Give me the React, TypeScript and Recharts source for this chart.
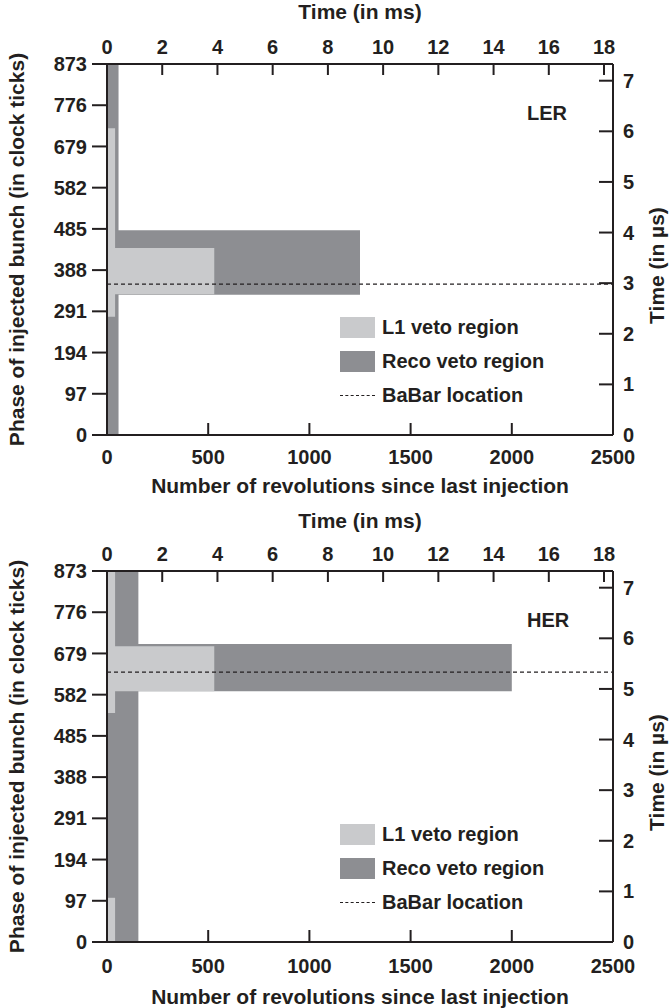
import React from 'react';
import { ComposedChart, XAxis, YAxis, ReferenceArea, Line, Legend, Label } from 'recharts';

// axis ticks
const REV_TICKS = [0, 500, 1000, 1500, 2000, 2500];
const MS_TICKS = [0, 2, 4, 6, 8, 10, 12, 14, 16, 18];
const PHASE_TICKS = [0, 97, 194, 291, 388, 485, 582, 679, 776, 873];
const US_TICKS = [0, 1, 2, 3, 4, 5, 6, 7];

const REV_MAX = 2500;
const PHASE_MAX = 873;
const REV_PERIOD_MS = 0.00733; // one turn of the ring
const MS_MAX = REV_MAX * REV_PERIOD_MS;
const US_MAX = 7.33;

// veto regions, in revolutions (x) and clock ticks (y)
const LER_RECO = [
  { x1: 0, x2: 57, y1: 0, y2: 873 },
  { x1: 0, x2: 1250, y1: 330, y2: 482 },
];
const LER_L1 = [
  { x1: 0, x2: 40, y1: 278, y2: 722 },
  { x1: 0, x2: 530, y1: 331, y2: 440 },
];
const LER_BABAR = 355;

const HER_RECO = [
  { x1: 0, x2: 155, y1: 0, y2: 873 },
  { x1: 0, x2: 2000, y1: 590, y2: 701 },
];
const HER_L1 = [
  { x1: 0, x2: 40, y1: 539, y2: 873 },
  { x1: 0, x2: 40, y1: 0, y2: 104 },
  { x1: 0, x2: 530, y1: 590, y2: 696 },
];
const HER_BABAR = 635;

const LEGEND = [
  { label: 'L1 veto region', kind: 'l1' },
  { label: 'Reco veto region', kind: 'reco' },
  { label: 'BaBar location', kind: 'babar' },
];

const FONT = '"Liberation Sans", Arial, Helvetica, sans-serif';
const INK = '#231f20';
const L1_COLOR = '#c9cacc';
const RECO_COLOR = '#8d8e92';

const tickStyle = { fill: INK, fontSize: 20, fontWeight: 700, fontFamily: FONT };
const titleStyle = { fill: INK, fontSize: 21, fontWeight: 700, fontFamily: FONT };

// rotated axis title on the axis band; shift moves it down from the centre
function sideTitle(value: string, fromEdge: number, side: 'left' | 'right', shift = 0) {
  return (props: any) => {
    const vb = props.viewBox || {};
    const cx = side === 'left' ? vb.x + fromEdge : vb.x + vb.width - fromEdge;
    const cy = vb.y + vb.height / 2 + shift;
    return (
      <text
        x={cx}
        y={cy}
        transform={`rotate(-90, ${cx}, ${cy})`}
        textAnchor="middle"
        dominantBaseline="central"
        style={titleStyle}
      >
        {value}
      </text>
    );
  };
}

function VetoLegend({ ring }: { ring: string }) {
  return (
    <div style={{ position: 'relative', width: 670, height: 500, fontFamily: FONT, fontWeight: 700, fontSize: 20, color: INK }}>
      <div style={{ position: 'absolute', left: 527, top: 102, lineHeight: '23px' }}>{ring}</div>
      {LEGEND.map((item, i) => (
        <div
          key={item.label}
          style={{ position: 'absolute', left: 340, top: 316 + i * 34, height: 22, display: 'flex', alignItems: 'center' }}
        >
          <div style={{ width: 35, height: 22, display: 'flex', alignItems: 'center' }}>
            {item.kind === 'babar' ? (
              <div style={{ width: 35, borderTop: `1px dashed ${INK}` }} />
            ) : (
              <div style={{ width: 35, height: 21, background: item.kind === 'l1' ? L1_COLOR : RECO_COLOR }} />
            )}
          </div>
          <span style={{ marginLeft: 7, lineHeight: '22px', whiteSpace: 'nowrap' }}>{item.label}</span>
        </div>
      ))}
    </div>
  );
}

interface Region {
  x1: number;
  x2: number;
  y1: number;
  y2: number;
}

interface RingChartProps {
  ring: string;
  reco: Region[];
  l1: Region[];
  babar: number;
  height: number;
  bottomAxis: number;
  bottomTickMargin: number;
  bottomTitleOffset: number;
  topTitleOffset: number;
}

function RingChart(p: RingChartProps) {
  const { ring, reco, l1, babar, height, bottomAxis } = p;
  // the BaBar position, given on both time scales
  const babarLine = [
    { rev: 0, ms: 0, phase: babar },
    { rev: REV_MAX, ms: MS_MAX, phase: babar },
  ];

  return (
    <ComposedChart width={670} height={height} data={babarLine} margin={{ top: 0, right: 0, bottom: 0, left: 0 }}>
      <XAxis
        xAxisId="rev"
        dataKey="rev"
        type="number"
        orientation="bottom"
        domain={[0, REV_MAX]}
        ticks={REV_TICKS}
        interval={0}
        height={bottomAxis}
        tickSize={-12}
        tickMargin={p.bottomTickMargin}
        tick={tickStyle}
        stroke={INK}
        strokeWidth={2}
      >
        <Label value="Number of revolutions since last injection" position="insideBottom" offset={p.bottomTitleOffset} style={titleStyle} />
      </XAxis>
      <XAxis
        xAxisId="ms"
        dataKey="ms"
        type="number"
        orientation="top"
        domain={[0, MS_MAX]}
        ticks={MS_TICKS}
        interval={0}
        height={64}
        tickSize={-11}
        tickMargin={21}
        tick={tickStyle}
        stroke={INK}
        strokeWidth={2}
      >
        <Label value="Time (in ms)" position="insideTop" offset={p.topTitleOffset} style={titleStyle} />
      </XAxis>
      <YAxis
        yAxisId="phase"
        type="number"
        orientation="left"
        domain={[0, PHASE_MAX]}
        ticks={PHASE_TICKS}
        interval={0}
        width={107}
        tickSize={15}
        tickMargin={5}
        tick={tickStyle}
        stroke={INK}
        strokeWidth={2}
      >
        <Label content={sideTitle('Phase of injected bunch (in clock ticks)', 16, 'left')} />
      </YAxis>
      <YAxis
        yAxisId="us"
        type="number"
        orientation="right"
        domain={[0, US_MAX]}
        ticks={US_TICKS}
        interval={0}
        allowDataOverflow
        width={57}
        tickSize={-14}
        tickMargin={24}
        tick={tickStyle}
        stroke={INK}
        strokeWidth={2}
      >
        <Label content={sideTitle('Time (in µs)', 14, 'right', 16)} />
      </YAxis>

      {reco.map((r, i) => (
        <ReferenceArea
          key={`reco-${i}`}
          xAxisId="rev"
          yAxisId="phase"
          x1={r.x1}
          x2={r.x2}
          y1={r.y1}
          y2={r.y2}
          fill={RECO_COLOR}
          fillOpacity={1}
          stroke="none"
        />
      ))}
      {l1.map((r, i) => (
        <ReferenceArea
          key={`l1-${i}`}
          xAxisId="rev"
          yAxisId="phase"
          x1={r.x1}
          x2={r.x2}
          y1={r.y1}
          y2={r.y2}
          fill={L1_COLOR}
          fillOpacity={1}
          stroke="none"
        />
      ))}

      {/* same line on the ms scale, kept invisible so the top axis has a series */}
      <Line
        xAxisId="ms"
        yAxisId="phase"
        dataKey="phase"
        stroke="none"
        strokeOpacity={0}
        dot={false}
        activeDot={false}
        legendType="none"
        isAnimationActive={false}
      />
      <Line
        xAxisId="rev"
        yAxisId="phase"
        dataKey="phase"
        stroke={INK}
        strokeWidth={1.2}
        strokeDasharray="4 3"
        dot={false}
        isAnimationActive={false}
      />

      <Legend
        layout="vertical"
        align="center"
        verticalAlign="middle"
        width={670}
        height={height}
        wrapperStyle={{ left: 0, top: 0, pointerEvents: 'none' }}
        content={() => <VetoLegend ring={ring} />}
      />
    </ComposedChart>
  );
}

export default function App() {
  return (
    <div style={{ position: 'absolute', left: 0, top: 0, width: 670, height: 1008, background: '#fff' }}>
      <div style={{ position: 'absolute', left: 0, top: 0 }}>
        <RingChart
          ring="LER"
          reco={LER_RECO}
          l1={LER_L1}
          babar={LER_BABAR}
          height={504}
          bottomAxis={69}
          bottomTickMargin={27}
          bottomTitleOffset={11}
          topTitleOffset={4}
        />
      </div>
      <div style={{ position: 'absolute', left: 0, top: 507 }}>
        <RingChart
          ring="HER"
          reco={HER_RECO}
          l1={HER_L1}
          babar={HER_BABAR}
          height={501}
          bottomAxis={66}
          bottomTickMargin={29}
          bottomTitleOffset={4}
          topTitleOffset={6}
        />
      </div>
    </div>
  );
}
